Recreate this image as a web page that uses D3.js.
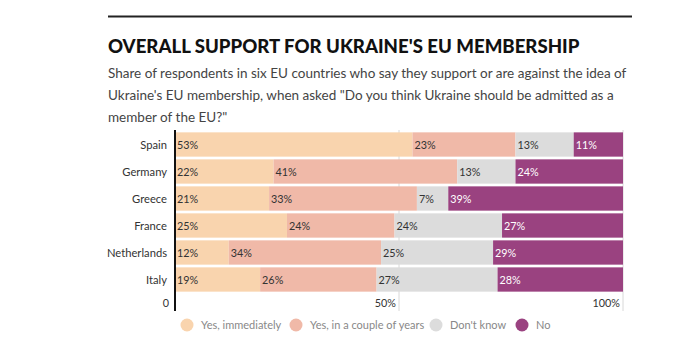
<!DOCTYPE html>
<html>
<head>
    <meta charset="utf-8">
    <title>Overall support for Ukraine's EU membership</title>
    <style>
        body { margin: 0; background: #ffffff; }
        svg { display: block; font-family: Lato, "Open Sans", sans-serif; }
        .title { font-size: 18.6px; font-weight: 900; fill: #111; }
        .subtitle { font-size: 13.5px; fill: #444; }
        .row-label { font-size: 11.2px; fill: #333; }
        .val { font-size: 10.8px; }
        .tick-label { font-size: 10.8px; fill: #333; }
        .legend-label { font-size: 11px; fill: #888; }
    </style>
    <script src="https://cdn.jsdelivr.net/npm/d3@7/dist/d3.min.js"></script>
</head>
<body>
<div id="chart"></div>
<script>
    var countries = ["Spain", "Germany", "Greece", "France", "Netherlands", "Italy"];
    var seriesNames = ["Yes, immediately", "Yes, in a couple of years", "Don't know", "No"];
    var yesNow = [53, 22, 21, 25, 12, 19];
    var yesLater = [23, 41, 33, 24, 34, 26];
    var dontKnow = [13, 13, 7, 24, 25, 27];
    var no = [11, 24, 39, 27, 29, 28];
    var tickValues = [0, 50, 100];
    var tickLabels = ["0", "50%", "100%"];
    var subtitleLines = [
        "Share of respondents in six EU countries who say they support or are against the idea of",
        "Ukraine's EU membership, when asked \"Do you think Ukraine should be admitted as a",
        "member of the EU?\""
    ];
    var colors = ["#f9d4ae", "#f0b9a8", "#dcdcdc", "#9a4280"];
    var textColors = ["#333", "#333", "#333", "#ffffff"];

    var width = 700, height = 354;
    var svg = d3.select("#chart").append("svg")
        .attr("width", width)
        .attr("height", height);

    // header
    svg.append("line")
        .attr("x1", 108).attr("x2", 632)
        .attr("y1", 16.5).attr("y2", 16.5)
        .attr("stroke", "#222").attr("stroke-width", 2);

    svg.append("text")
        .attr("class", "title")
        .attr("x", 108).attr("y", 53)
        .text("OVERALL SUPPORT FOR UKRAINE'S EU MEMBERSHIP");

    svg.selectAll(".subtitle")
        .data(subtitleLines)
        .enter().append("text")
        .attr("class", "subtitle")
        .attr("x", 108)
        .attr("y", function(d, i) { return 78 + i * 22; })
        .text(function(d) { return d; });

    // chart area
    var x = d3.scaleLinear().domain([0, 100]).range([175, 623]);
    var y = d3.scaleBand().domain(countries).range([131, 293]).paddingInner(0.1).paddingOuter(0.05);

    var table = countries.map(function(c, i) {
        return { country: c, s0: yesNow[i], s1: yesLater[i], s2: dontKnow[i], s3: no[i] };
    });
    var stack = d3.stack().keys(["s0", "s1", "s2", "s3"]);
    var layers = stack(table);

    // gridlines
    svg.selectAll(".grid")
        .data(tickValues.slice(1))
        .enter().append("line")
        .attr("x1", function(d) { return x(d); })
        .attr("x2", function(d) { return x(d); })
        .attr("y1", 130).attr("y2", 311)
        .attr("stroke", "#d8d8d8").attr("stroke-width", 1);

    var groups = svg.selectAll(".layer")
        .data(layers)
        .enter().append("g")
        .attr("class", "layer")
        .attr("fill", function(d, k) { return colors[k]; });

    groups.selectAll("rect")
        .data(function(d) { return d; })
        .enter().append("rect")
        .attr("x", function(d) { return x(d[0]); })
        .attr("y", function(d) { return y(d.data.country); })
        .attr("width", function(d) { return x(d[1]) - x(d[0]); })
        .attr("height", y.bandwidth());

    layers.forEach(function(layer, k) {
        svg.selectAll(".val" + k)
            .data(layer)
            .enter().append("text")
            .attr("class", "val")
            .attr("x", function(d) { return x(d[0]) + 2; })
            .attr("y", function(d) { return y(d.data.country) + y.bandwidth() / 2 + 4; })
            .attr("fill", textColors[k])
            .text(function(d) { return (d[1] - d[0]) + "%"; });
    });

    // y axis line and labels
    svg.append("line")
        .attr("x1", 175).attr("x2", 175)
        .attr("y1", 130).attr("y2", 311)
        .attr("stroke", "#111").attr("stroke-width", 2);

    svg.selectAll(".row-label")
        .data(countries)
        .enter().append("text")
        .attr("class", "row-label")
        .attr("x", 167)
        .attr("y", function(d) { return y(d) + y.bandwidth() / 2 + 4; })
        .attr("text-anchor", "end")
        .text(function(d) { return d; });

    // x tick labels
    svg.selectAll(".tick-label")
        .data(tickValues)
        .enter().append("text")
        .attr("class", "tick-label")
        .attr("x", function(d) { return x(d) - (d === 0 ? 6 : 3); })
        .attr("y", 307)
        .attr("text-anchor", "end")
        .text(function(d, i) { return tickLabels[i]; });

    // legend
    var legendX = [187, 296, 436, 522];
    var legend = svg.selectAll(".legend")
        .data(seriesNames)
        .enter().append("g")
        .attr("transform", function(d, i) { return "translate(" + legendX[i] + ",325)"; });
    legend.append("circle")
        .attr("r", 6.5)
        .attr("fill", function(d, i) { return colors[i]; });
    legend.append("text")
        .attr("class", "legend-label")
        .attr("x", 14)
        .attr("y", 4)
        .text(function(d) { return d; });
</script>
</body>
</html>
